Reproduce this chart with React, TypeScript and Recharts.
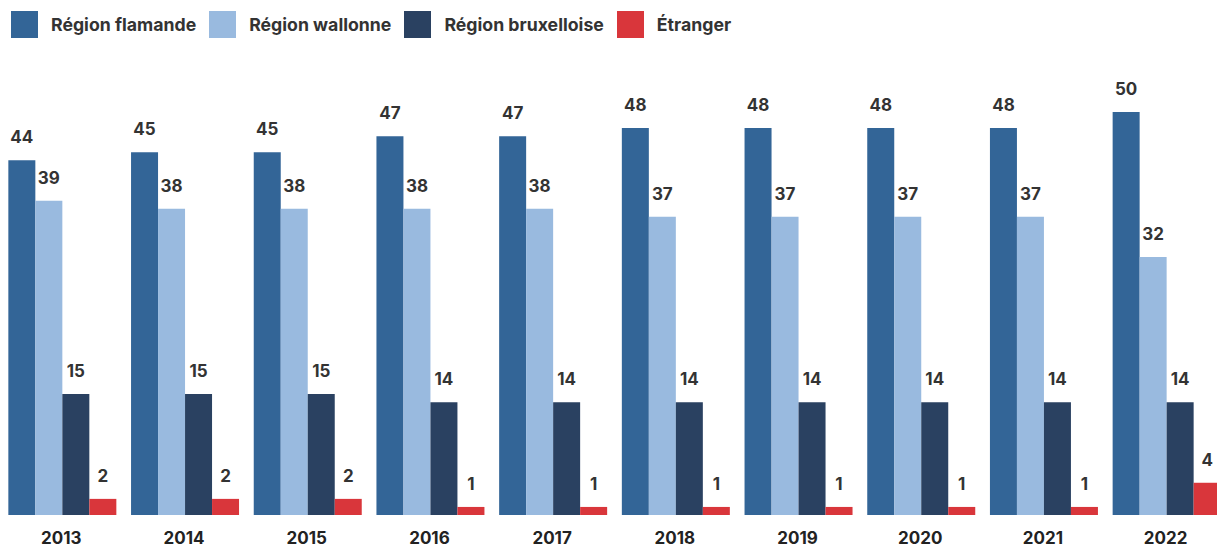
import React from 'react';
import { BarChart, Bar, XAxis, YAxis, LabelList } from 'recharts';

const years = ['2013', '2014', '2015', '2016', '2017', '2018', '2019', '2020', '2021', '2022'];
const flamande = [44, 45, 45, 47, 47, 48, 48, 48, 48, 50];
const wallonne = [39, 38, 38, 38, 38, 37, 37, 37, 37, 32];
const bruxelloise = [15, 15, 15, 14, 14, 14, 14, 14, 14, 14];
const etranger = [2, 2, 2, 1, 1, 1, 1, 1, 1, 4];

const seriesNames = ['Région flamande', 'Région wallonne', 'Région bruxelloise', 'Étranger'];
const seriesKeys = ['flamande', 'wallonne', 'bruxelloise', 'etranger'];
const COLORS = ['#336597', '#99badf', '#2a4161', '#d9363b'];

const FONT = 'Inter, "Noto Sans", sans-serif';

export default function App() {
    const data = years.map((year, i) => ({
        year,
        flamande: flamande[i],
        wallonne: wallonne[i],
        bruxelloise: bruxelloise[i],
        etranger: etranger[i],
    }));

    return (
        <div style={{ position: 'relative', width: 1217, height: 550, overflow: 'hidden', fontFamily: FONT }}>
            <style>{'html, body { margin: 0; padding: 0; overflow: hidden; }'}</style>
            <div style={{ position: 'absolute', top: 11, left: 11, display: 'flex', alignItems: 'center', zIndex: 2 }}>
                {seriesNames.map((name, i) => (
                    <div key={name} style={{ display: 'flex', alignItems: 'center', marginRight: 13 }}>
                        <div style={{ width: 27, height: 27, background: COLORS[i], marginRight: 13 }} />
                        <span style={{ fontSize: 17.7, fontWeight: 700, color: '#333' }}>{name}</span>
                    </div>
                ))}
            </div>
            <BarChart
                width={1227}
                height={550}
                data={data}
                margin={{ top: 112, right: 0, left: 0, bottom: 0 }}
                barGap={0}
                barCategoryGap="6.8%"
            >
                <XAxis
                    dataKey="year"
                    axisLine={false}
                    tickLine={false}
                    tickSize={0}
                    tickMargin={17}
                    height={35}
                    interval={0}
                    tick={{ fill: '#222', fontSize: 17, fontWeight: 700, fontFamily: FONT }}
                />
                <YAxis hide domain={[0, 50]} />
                {seriesKeys.map((key, i) => (
                    <Bar key={key} dataKey={key} fill={COLORS[i]} isAnimationActive={false}>
                        <LabelList
                            dataKey={key}
                            position="top"
                            offset={17}
                            fill="#333"
                            fontSize={17}
                            fontWeight={700}
                            fontFamily={FONT}
                        />
                    </Bar>
                ))}
            </BarChart>
        </div>
    );
}
